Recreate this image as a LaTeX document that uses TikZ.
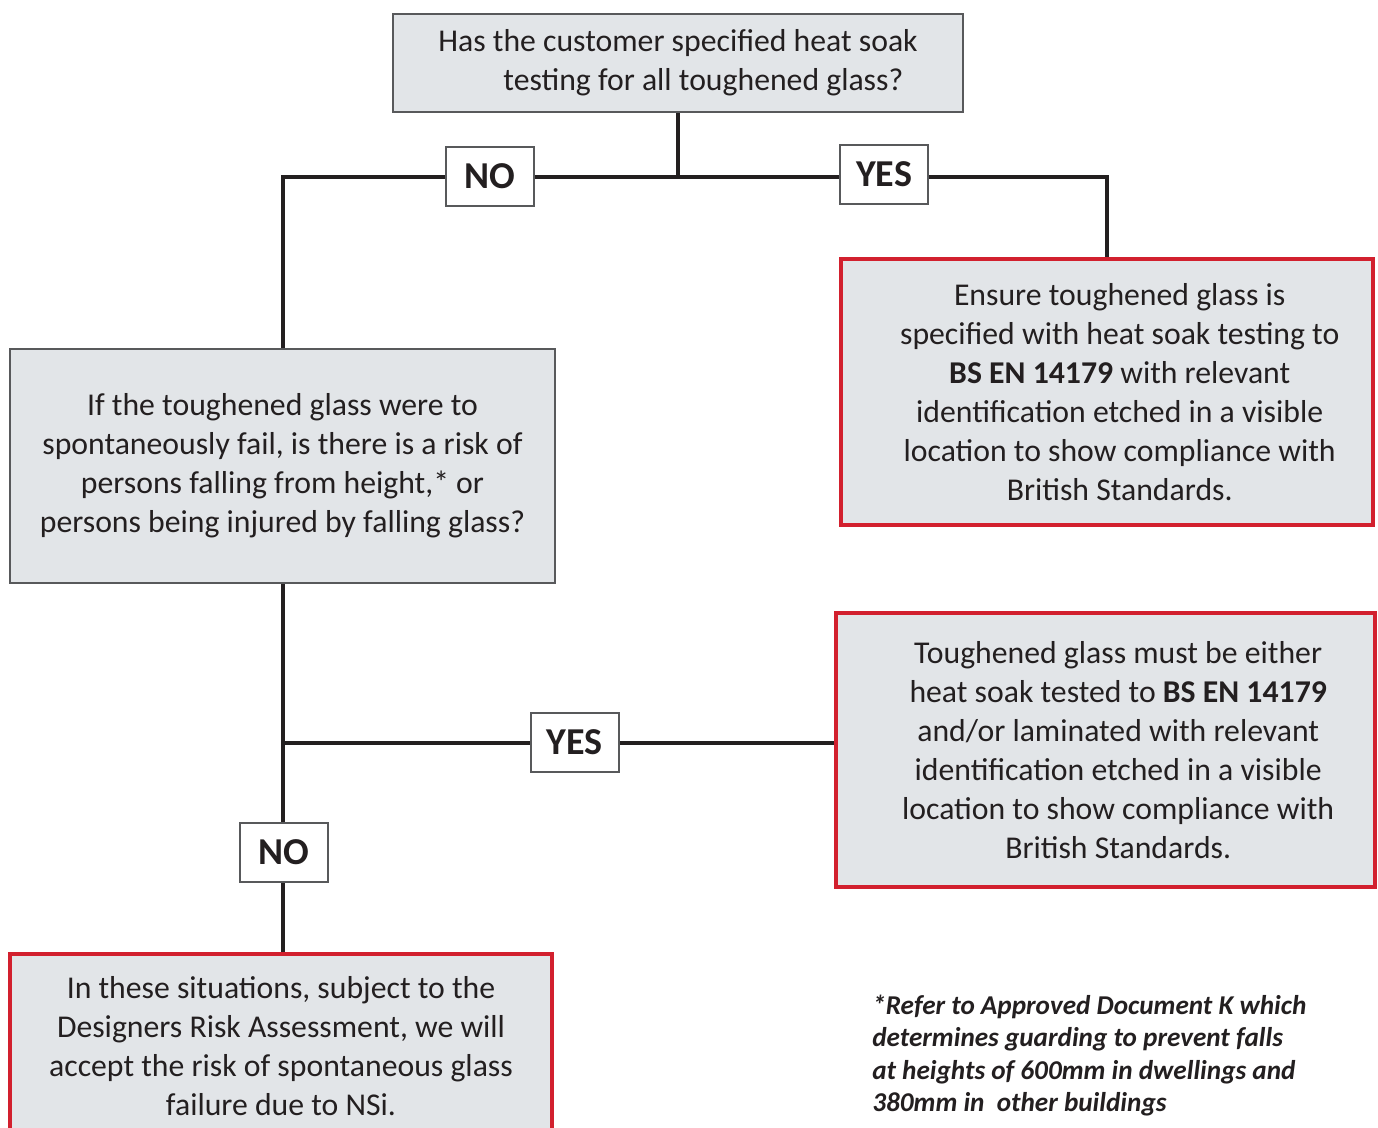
\documentclass[tikz,border=0pt]{standalone}
\usepackage{fontspec}
\setmainfont{Carlito}
\usetikzlibrary{backgrounds}

\definecolor{boxgrey}{HTML}{E2E5E8}
\definecolor{edgegrey}{HTML}{58595B}
\definecolor{alertred}{HTML}{D2202E}
\definecolor{inkblack}{HTML}{231F20}

\tikzset{
  question/.style={draw=edgegrey,line width=1.5pt,fill=boxgrey,align=center,inner sep=0pt,
    text=inkblack,font=\fontsize{23.8}{29.3}\selectfont},
  answer/.style={question,draw=alertred,line width=3pt},
  choice/.style={draw=edgegrey,line width=1.5pt,fill=white,minimum width=66pt,minimum height=44pt,
    inner sep=0pt,text=inkblack,font=\fontsize{28.5}{30}\selectfont\bfseries},
  link/.style={draw=inkblack,line width=3pt}
}

\begin{document}
\begin{tikzpicture}[x=0.75pt,y=-0.75pt]
\useasboundingbox (0,0) rectangle (1378,1128);

% Draw the question boxes
\node[question,minimum width=427.5pt,minimum height=73.5pt] (ask) at (678,63)
  {Has the customer specified heat soak\\\hspace*{1.6em}testing for all toughened glass?};
\node[question,minimum width=408.75pt,minimum height=175.5pt] (risk) at (282.5,466)
  {If the toughened glass were to\\spontaneously fail, is there is a risk of\\persons falling from height,* or\\persons being injured by falling glass?};

% Draw the answer boxes
\node[answer,minimum width=399pt,minimum height=199.5pt] (soak) at (1107,392)
  {\hspace*{0.8em}Ensure toughened glass is\\\hspace*{0.8em}specified with heat soak testing to\\\hspace*{0.8em}\textbf{BS EN 14179} with relevant\\\hspace*{0.8em}identification etched in a visible\\\hspace*{0.8em}location to show compliance with\\\hspace*{0.8em}British Standards.};
\node[answer,minimum width=404.25pt,minimum height=205.5pt] (either) at (1105.5,750)
  {\hspace*{0.8em}Toughened glass must be either\\\hspace*{0.8em}heat soak tested to \textbf{BS EN 14179}\\\hspace*{0.8em}and/or laminated with relevant\\\hspace*{0.8em}identification etched in a visible\\\hspace*{0.8em}location to show compliance with\\\hspace*{0.8em}British Standards.};
\node[answer,minimum width=406.5pt,minimum height=138pt] (accept) at (281,1046)
  {In these situations, subject to the\\Designers Risk Assessment, we will\\accept the risk of spontaneous glass\\failure due to NSi.};

% Draw the choice labels
\node[choice] (noA) at (489.5,176.5) {NO};
\node[choice] (yesA) at (884,174.5) {YES};
\node[choice] (yesB) at (574.5,742.5) {YES};
\node[choice] (noB) at (284,852.5) {NO};

% Footnote
\node[anchor=north west,align=left,inner sep=0pt,text=inkblack,
  font=\fontsize{20.4}{24.2}\selectfont\bfseries\itshape] (note) at (872,995)
  {*Refer to Approved Document K which\\determines guarding to prevent falls\\at heights of 600mm in dwellings and\\380mm in\ \ other buildings};

% Draw the connectors behind the boxes
\coordinate (split) at (ask.south |- noA);
\coordinate (branch) at (risk.south |- yesB);
\begin{scope}[on background layer]
\draw[link] (ask.south) -- (split);
\draw[link] (split) -| (risk.north);
\draw[link] (split) -| (soak.north);
\draw[link] (risk.south) -- (risk.south |- accept.north);
\draw[link] (branch) -- (branch -| either.west);
\end{scope}

\end{tikzpicture}
\end{document}
